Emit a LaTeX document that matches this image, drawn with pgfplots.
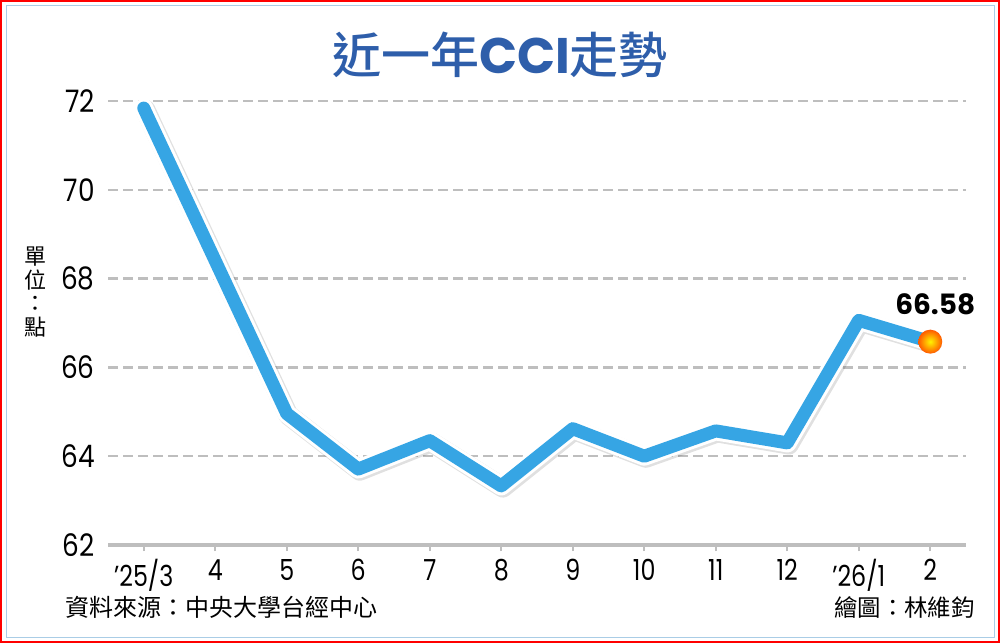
\documentclass[border=0pt]{standalone}
\usepackage{pgfplots}
\pgfplotsset{compat=1.18}
\usepackage{pgfplotstable}
\usepackage{fontspec}
\setmainfont{Poppins}
\newfontfamily\cjk{Noto Sans CJK TC}
\newfontfamily\cjkm{Noto Sans CJK TC Medium}
\newfontfamily\ynum[FakeStretch=0.85]{Poppins}
\newfontfamily\xnum[FakeStretch=0.82]{Poppins}
\definecolor{lineblue}{RGB}{54,165,228}
\definecolor{titleblue}{RGB}{46,94,170}
\definecolor{gridgray}{RGB}{190,190,190}
\definecolor{frameblue}{RGB}{170,205,230}

\pgfplotstableread{
x y
0 71.84
1 68.40
2 64.96
3 63.71
4 64.35
5 63.33
6 64.62
7 64.00
8 64.57
9 64.30
10 67.06
11 66.58
}\cci

\begin{document}
\begin{tikzpicture}
\useasboundingbox (0,0) rectangle (500pt,321.5pt);
\fill[white] (0,0) rectangle (500pt,321.5pt);
\draw[red, line width=1pt] (0.5pt,0.5pt) rectangle (499.5pt,321pt);
\draw[frameblue, line width=0.5pt] (3pt,3pt) rectangle (497pt,318.5pt);

\begin{axis}[
  at={(54pt,49pt)}, anchor=south west,
  scale only axis, width=429pt, height=222pt,
  xmin=-0.5, xmax=11.5, ymin=62, ymax=72,
  clip=false,
  axis x line*=bottom, axis y line*=left,
  y axis line style={draw=none},
  x axis line style={draw=gridgray, line width=2pt, -},
  xtick={0,...,11},
  xticklabels={’25/3,4,5,6,7,8,9,10,11,12,’26/1,2},
  ytick={62,64,66,68,70,72},
  yticklabels={62,64,66,68,70,72},
  tick align=outside,
  major tick length=3pt,
  xtick style={draw=gridgray, line width=1pt},
  ytick style={draw=none},
  ymajorgrids,
  grid style={draw=gridgray, line width=1.2pt, dash pattern=on 5pt off 2.5pt},
  xticklabel style={font=\xnum\fontsize{14.5}{16}\selectfont, inner sep=0pt, yshift=-4pt},
  yticklabel style={font=\ynum\fontsize{15.5}{16}\selectfont, inner sep=0pt, xshift=-3.5pt},
]
\addplot[draw=black, opacity=0.12, line width=10pt, line join=round, line cap=round, xshift=0.8pt, yshift=-0.8pt] table[x=x,y=y] {\cci};
\addplot[draw=white, line width=9.5pt, line join=round, line cap=round] table[x=x,y=y] {\cci};
\addplot[draw=lineblue, line width=6.5pt, line join=round, line cap=round] table[x=x,y=y] {\cci};
\addplot[draw=none, mark=none,
  nodes near coords={}, 
  nodes near coords style={anchor=center, circle, inner sep=0pt, minimum size=12pt,
    shading=radial, inner color=yellow!90!orange, outer color=orange!70!red}]
  coordinates {(11,66.58)};
\addplot[draw=none, mark=none,
  nodes near coords, point meta=explicit symbolic,
  nodes near coords style={anchor=south, inner sep=0pt, yshift=13pt, xshift=2.5pt, text=black, font=\fontsize{14}{16}\selectfont\bfseries}]
  coordinates {(11,66.58) [66.58]};
\end{axis}

\node[titleblue, inner sep=0pt] at (250pt,294pt) {\cjkm\fontsize{24.5}{26}\selectfont 近一年{\fontsize{25}{26}\selectfont\rmfamily\bfseries CCI}走勢};
\node[align=center, font=\cjk\fontsize{11}{11.8}\selectfont] at (18pt,175.5pt) {單\\位\\：\\點};
\node[anchor=west, inner sep=0pt, font=\cjk\fontsize{12}{13}\selectfont] at (32.5pt,18pt) {資料來源：中央大學台經中心};
\node[anchor=east, inner sep=0pt, font=\cjk\fontsize{11.7}{13}\selectfont] at (487.5pt,18pt) {繪圖：林維鈞};
\end{tikzpicture}
\end{document}
